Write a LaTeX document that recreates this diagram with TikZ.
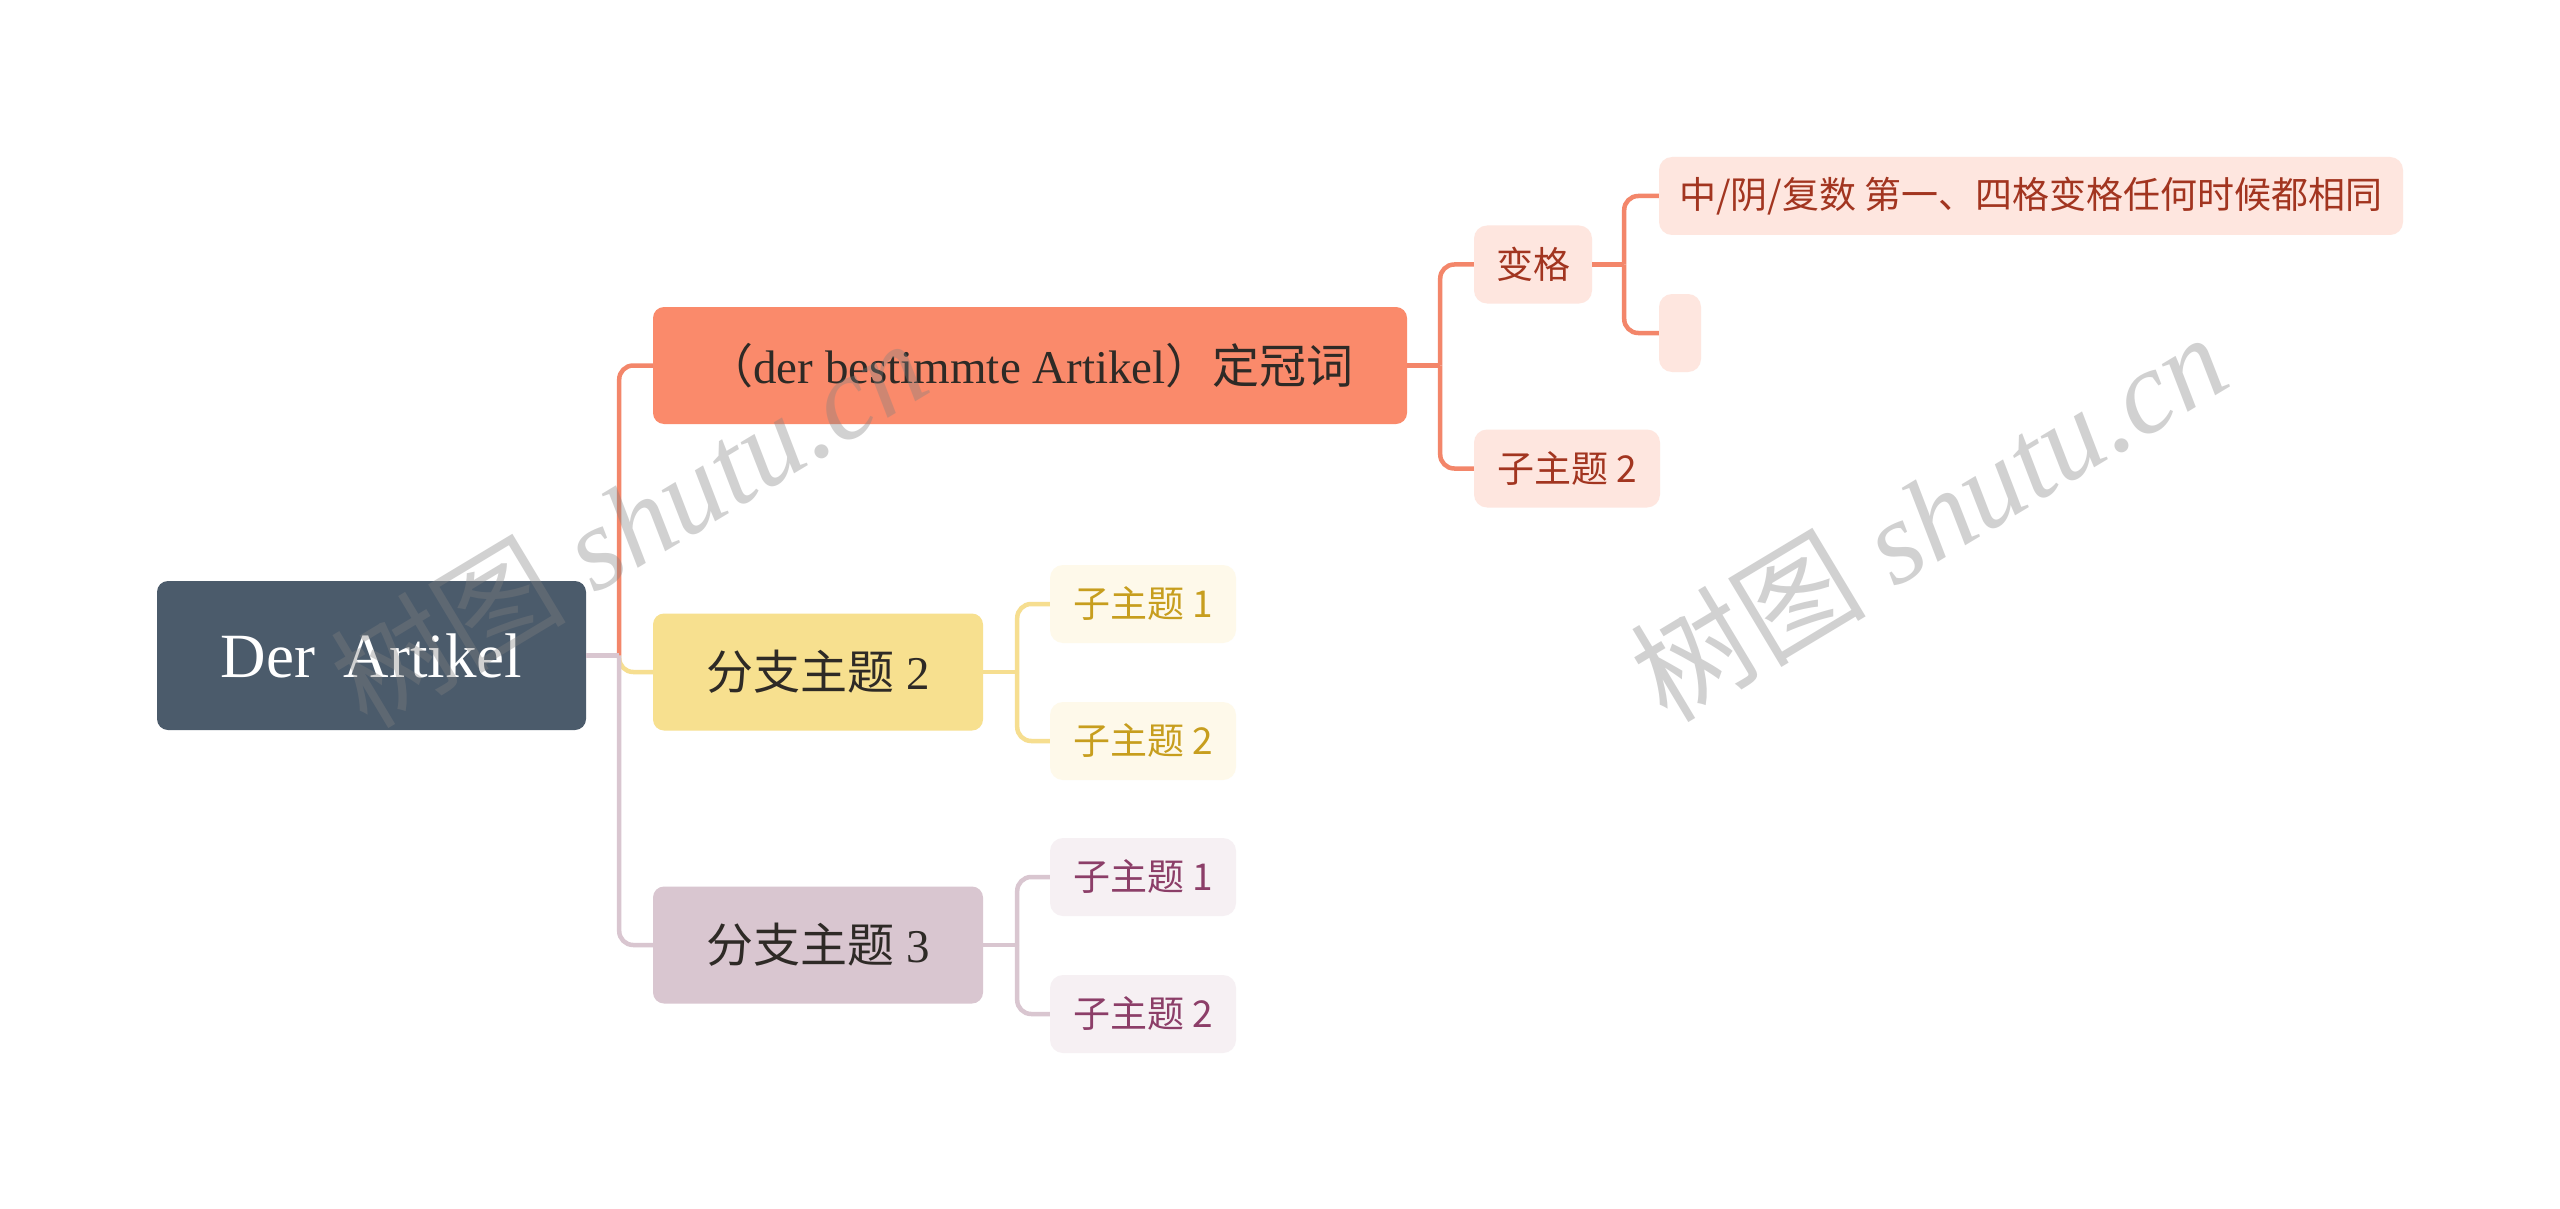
\documentclass[tikz,border=0pt]{standalone}
\usepackage{fontspec}
\setmainfont{Liberation Serif}
\newfontfamily\cjk{Noto Sans CJK SC}
\definecolor{rootfill}{HTML}{4B5B6B}
\definecolor{bonefill}{HTML}{FA8A6B}
\definecolor{btwofill}{HTML}{F7E08F}
\definecolor{bthreefill}{HTML}{D9C6D0}
\definecolor{sofill}{HTML}{FEE6DF}
\definecolor{syfill}{HTML}{FEF9EA}
\definecolor{spfill}{HTML}{F6F0F3}
\definecolor{sotext}{HTML}{A23520}
\definecolor{sytext}{HTML}{C79E1E}
\definecolor{sptext}{HTML}{8C3E68}
\definecolor{btext}{HTML}{2E2A26}
\definecolor{olinec}{HTML}{F3866A}
\definecolor{ylinec}{HTML}{F6DE90}
\definecolor{plinec}{HTML}{D9C6D0}
\definecolor{wmgray}{HTML}{808080}
\begin{document}
\begin{tikzpicture}[x=1pt,y=-1pt,
  box/.style={rounded corners=11pt, inner sep=0pt, align=center},
  rootbox/.style={box, fill=rootfill, text=white, minimum width=429pt, minimum height=149pt,
     font=\fontsize{63}{70}\selectfont},
  mainbox/.style={box, text=btext, minimum height=117pt, font=\fontsize{47}{54}\selectfont},
  subbox/.style={box, rounded corners=13pt, minimum height=78pt, font=\cjk\fontsize{37}{44}\selectfont},
  osub/.style={subbox, fill=sofill, text=sotext},
  ysub/.style={subbox, fill=syfill, text=sytext},
  psub/.style={subbox, fill=spfill, text=sptext},
  connline/.style={line width=4.5pt},
  elbowline/.style={connline, rounded corners=14pt},
  wmtext/.style={text=wmgray, text opacity=0.36, font=\fontsize{118}{126}\selectfont, inner sep=0pt}
]
\useasboundingbox (0,0) rectangle (2560,1209);
\fill[white] (0,0) rectangle (2560,1209);

% nodes
\node[rootbox] (root) at (371.5,655.5) {Der\hspace{0.45em}Artikel};
\node[mainbox, fill=bonefill, minimum width=754pt] (b1) at (1030,365.5)
  {{\cjk （}der bestimmte Artikel{\cjk ）定冠词}};
\node[mainbox, fill=btwofill, minimum width=330pt] (b2) at (818,672) {{\cjk 分支主题} 2};
\node[mainbox, fill=bthreefill, minimum width=330pt] (b3) at (818,945) {{\cjk 分支主题} 3};

\node[osub, minimum width=118pt] (bg) at (1533,264.5) {变格};
\node[osub, minimum width=186pt] (s12) at (1567,468.5) {子主题 2};
\node[osub, minimum width=744pt] (c1) at (2031,196) {中/阴/复数 第一、四格变格任何时候都相同};
\node[osub, minimum width=42pt] (c2) at (1680,333) {};

\node[ysub, minimum width=186pt] (y1) at (1143,604) {子主题 1};
\node[ysub, minimum width=186pt] (y2) at (1143,741) {子主题 2};
\node[psub, minimum width=186pt] (p1) at (1143,877) {子主题 1};
\node[psub, minimum width=186pt] (p2) at (1143,1014) {子主题 2};

% root connectors
\coordinate (j0) at ([xshift=33pt]root.east);
\draw[elbowline, ylinec] (j0) |- (b2.west);
\draw[elbowline, olinec] (j0) |- (b1.west);
\draw[elbowline, plinec] (j0) |- (b3.west);
\draw[connline, plinec] (root.east) -- (j0);

% branch 1
\draw[connline, olinec] (b1.east) -- ++(33,0) coordinate (j1);
\draw[elbowline, olinec] (j1) |- (bg.west);
\draw[elbowline, olinec] (j1) |- (s12.west);
\draw[connline, olinec] (bg.east) -- ++(32,0) coordinate (j2);
\draw[elbowline, olinec] (j2) |- (c1.west);
\draw[elbowline, olinec] (j2) |- (c2.west);

% branch 2
\draw[connline, ylinec] (b2.east) -- ++(34,0) coordinate (j3);
\draw[elbowline, ylinec] (j3) |- (y1.west);
\draw[elbowline, ylinec] (j3) |- (y2.west);

% branch 3
\draw[connline, plinec] (b3.east) -- ++(34,0) coordinate (j4);
\draw[elbowline, plinec] (j4) |- (p1.west);
\draw[elbowline, plinec] (j4) |- (p2.west);

% watermarks
\node[wmtext, rotate=31] (wm1) at (628,522) {{\cjk 树图} \textit{shutu.cn}};
\node[wmtext, rotate=31] (wm2) at (1928,516) {{\cjk 树图} \textit{shutu.cn}};
\end{tikzpicture}
\end{document}
